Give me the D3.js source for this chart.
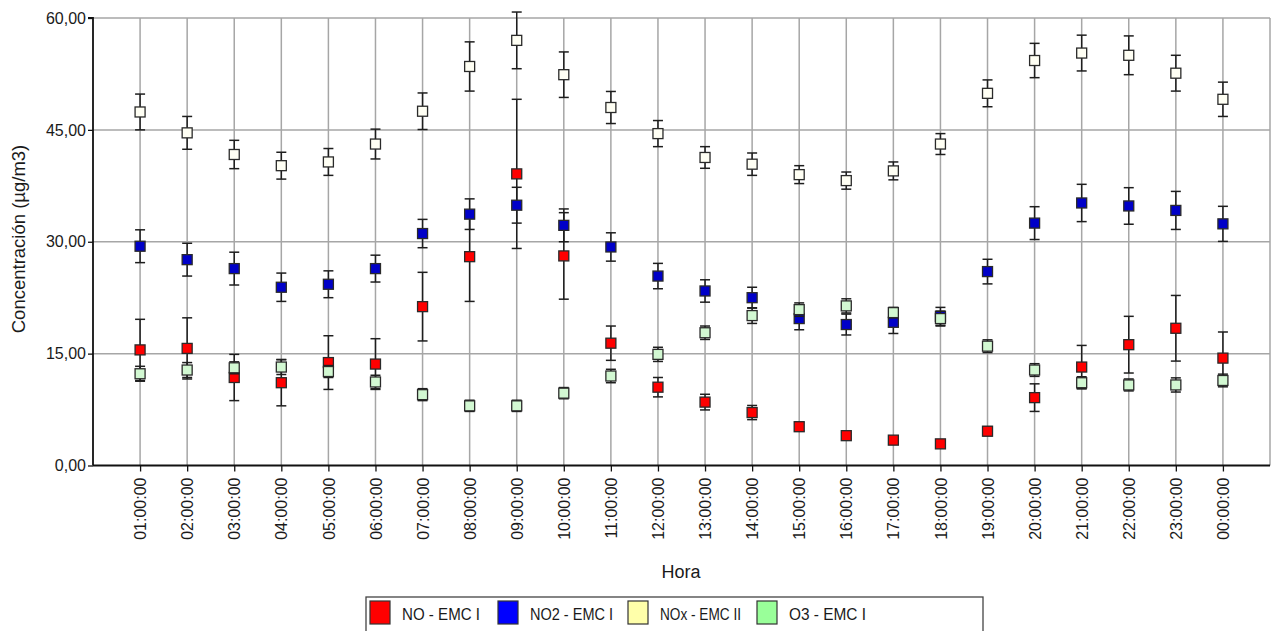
<!DOCTYPE html>
<html>
<head>
<meta charset="utf-8">
<script src="https://cdn.jsdelivr.net/npm/d3@7"></script>
<style>
  html, body { margin: 0; padding: 0; background: #ffffff; }
  svg { display: block; font-family: "Liberation Sans", Arial, sans-serif; }
</style>
</head>
<body>
<svg id="chart" width="1271" height="631"></svg>
<script>
// Hourly categories
const hours = ["01:00:00","02:00:00","03:00:00","04:00:00","05:00:00","06:00:00",
  "07:00:00","08:00:00","09:00:00","10:00:00","11:00:00","12:00:00",
  "13:00:00","14:00:00","15:00:00","16:00:00","17:00:00","18:00:00",
  "19:00:00","20:00:00","21:00:00","22:00:00","23:00:00","00:00:00"];

// Mean concentration per hour (µg/m3) and half-width of the error bar
const noMean  = [15.5,15.7,11.8,11.1,13.8,13.6,21.3,28.0,39.1,28.1,16.4,10.5,8.5,7.1,5.2,4.0,3.4,2.9,4.6,9.1,13.2,16.2,18.4,14.4];
const noErr   = [4.1,4.1,3.1,3.1,3.6,3.4,4.6,6.0,10.0,5.8,2.3,1.3,1.05,0.95,0.6,0.4,0.3,0.2,0.6,1.85,2.9,3.8,4.4,3.5];

const no2Mean = [29.4,27.6,26.4,23.9,24.3,26.4,31.1,33.7,34.9,32.2,29.3,25.4,23.4,22.5,19.7,18.9,19.2,20.0,26.0,32.5,35.2,34.8,34.2,32.4];
const no2Err  = [2.2,2.2,2.2,1.9,1.8,1.8,1.9,2.05,2.4,2.2,1.9,1.7,1.5,1.4,1.5,1.4,1.5,1.2,1.65,2.2,2.5,2.45,2.55,2.35];

const noxMean = [47.4,44.6,41.7,40.2,40.7,43.1,47.5,53.5,57.0,52.4,48.0,44.5,41.3,40.4,39.0,38.2,39.5,43.1,49.9,54.3,55.3,55.0,52.6,49.1];
const noxErr  = [2.4,2.2,1.9,1.8,1.8,2.0,2.45,3.3,3.8,3.05,2.15,1.75,1.45,1.5,1.2,1.15,1.2,1.4,1.8,2.3,2.4,2.6,2.4,2.3];

const o3Mean  = [12.3,12.8,13.1,13.2,12.6,11.2,9.5,8.0,8.0,9.7,12.0,14.9,17.8,20.1,20.9,21.4,20.5,19.7,16.0,12.8,11.1,10.8,10.8,11.4];
const o3Err   = [1.0,1.0,0.8,1.0,0.8,0.9,0.8,0.75,0.75,0.75,0.9,0.95,0.9,1.05,0.9,0.95,0.7,1.0,0.85,0.85,0.8,0.8,0.95,0.85];

const yTicks = [0, 15, 30, 45, 60];

const seriesNames = ["NO - EMC I", "NO2 - EMC I", "NOx - EMC II", "O3 - EMC I"];
const seriesMeans = [noMean, no2Mean, noxMean, o3Mean];
const seriesErrs  = [noErr, no2Err, noxErr, o3Err];
const markerFill  = ["#ff0000", "#0000c8", "#fffff4", "#d2f8d2"];
const legendFill  = ["#ff0000", "#0000ff", "#ffffaa", "#99ff99"];

const svg = d3.select("#chart");
const plotL = 93, plotR = 1270, plotT = 18, plotB = 465.5;

const x = d3.scalePoint().domain(hours).range([plotL, plotR]).padding(1);
const y = d3.scaleLinear().domain([0, 60]).range([plotB, plotT]);

const fmt = v => d3.format(".2f")(v).replace(".", ",");

// Grid
const grid = svg.append("g");
grid.selectAll("line.h").data(yTicks.filter(t => t > 0)).join("line")
  .attr("x1", plotL).attr("x2", plotR)
  .attr("y1", d => y(d)).attr("y2", d => y(d))
  .attr("stroke", "#a6a6a6").attr("stroke-width", 1.5);
grid.selectAll("line.v").data(hours).join("line")
  .attr("x1", d => x(d)).attr("x2", d => x(d))
  .attr("y1", plotT).attr("y2", plotB)
  .attr("stroke", "#a6a6a6").attr("stroke-width", 1.5);
grid.append("line").attr("x1", plotR).attr("x2", plotR).attr("y1", plotT).attr("y2", plotB)
  .attr("stroke", "#a6a6a6").attr("stroke-width", 1.5);

// Axes
const yAxis = svg.append("g").attr("transform", `translate(${plotL},0)`)
  .call(d3.axisLeft(y).tickValues(yTicks).tickFormat(fmt).tickSize(5).tickPadding(2));
const xAxis = svg.append("g").attr("transform", `translate(0,${plotB})`)
  .call(d3.axisBottom(x).tickSize(6).tickSizeOuter(0));
[yAxis, xAxis].forEach(a => {
  a.select(".domain").attr("stroke", "#111").attr("stroke-width", 1.8);
  a.selectAll(".tick line").attr("stroke", "#111").attr("stroke-width", 1.3);
  a.selectAll("text").attr("fill", "#1a1a1a").attr("font-size", 16)
    .attr("font-family", "'Liberation Sans', Arial, sans-serif");
});
yAxis.select(".domain").attr("d", `M-5,${plotT}H0V${plotB}`);
xAxis.select(".domain").attr("d", `M${plotL},0H${plotR}`);
xAxis.selectAll(".tick text")
  .attr("transform", "rotate(-90)")
  .attr("text-anchor", "end")
  .attr("x", -12).attr("y", 0).attr("dy", "0.35em");

// Axis titles
svg.append("text")
  .attr("transform", `translate(25,239) rotate(-90)`)
  .attr("text-anchor", "middle")
  .attr("font-size", 18.5).attr("fill", "#1a1a1a")
  .text("Concentración (µg/m3)");
svg.append("text")
  .attr("x", 681).attr("y", 578)
  .attr("text-anchor", "middle")
  .attr("font-size", 18).attr("fill", "#1a1a1a")
  .text("Hora");

// Error bars and markers, one series after another
const cap = 5, half = 5;
seriesMeans.forEach((means, s) => {
  const errs = seriesErrs[s];
  const g = svg.append("g");
  const rows = hours.map((h, i) => ({ h, m: means[i], e: errs[i] }));
  const eb = g.selectAll("g.eb").data(rows).join("g").attr("stroke", "#1e1e1e").attr("stroke-width", 1.5);
  eb.append("line").attr("x1", d => x(d.h)).attr("x2", d => x(d.h))
    .attr("y1", d => y(d.m + d.e)).attr("y2", d => y(d.m - d.e));
  eb.append("line").attr("x1", d => x(d.h) - cap).attr("x2", d => x(d.h) + cap)
    .attr("y1", d => y(d.m + d.e)).attr("y2", d => y(d.m + d.e));
  eb.append("line").attr("x1", d => x(d.h) - cap).attr("x2", d => x(d.h) + cap)
    .attr("y1", d => y(d.m - d.e)).attr("y2", d => y(d.m - d.e));
  g.selectAll("rect").data(rows).join("rect")
    .attr("x", d => x(d.h) - half).attr("y", d => y(d.m) - half)
    .attr("width", half * 2).attr("height", half * 2)
    .attr("fill", markerFill[s]).attr("stroke", "#2a2a2a").attr("stroke-width", 1.3);
});

// Legend (labels set in a slightly condensed width)
const legend = svg.append("g");
legend.append("rect").attr("x", 366).attr("y", 597).attr("width", 617).attr("height", 50)
  .attr("fill", "#fff").attr("stroke", "#444").attr("stroke-width", 1.3);
const legX = [370, 498, 628, 757];
const legW = [78, 83, 81, 77];
seriesNames.forEach((name, i) => {
  legend.append("rect").attr("x", legX[i]).attr("y", 601).attr("width", 20).attr("height", 23)
    .attr("fill", legendFill[i]).attr("stroke", "#333").attr("stroke-width", 1.2);
  legend.append("text").attr("x", legX[i] + 32).attr("y", 620)
    .attr("font-size", 17).attr("fill", "#1a1a1a")
    .attr("textLength", legW[i]).attr("lengthAdjust", "spacingAndGlyphs")
    .text(name);
});
</script>
</body>
</html>
